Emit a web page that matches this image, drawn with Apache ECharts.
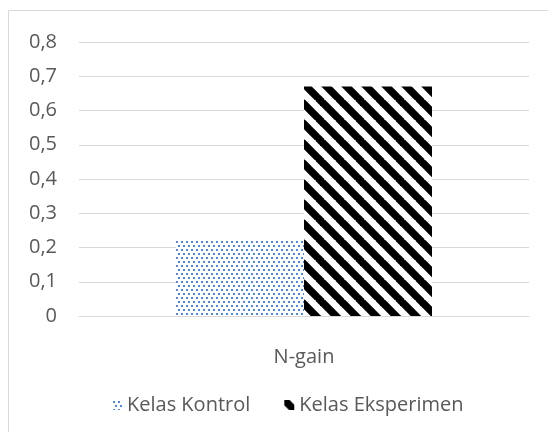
<!DOCTYPE html>
<html>
<head>
<meta charset="utf-8">
<script src="https://cdn.jsdelivr.net/npm/echarts@6/dist/echarts.min.js"></script>
<style>
  html, body { margin: 0; padding: 0; background: #fff; }
  #chart { width: 548px; height: 432px; }
</style>
</head>
<body>
<div id="chart"></div>
<script>
var categories = ['N-gain'];
var seriesNames = ['Kelas Kontrol', 'Kelas Eksperimen'];
var kontrolValues = [0.22];
var eksperimenValues = [0.67];

// titik-titik biru
function dotPattern() {
    var c = document.createElement('canvas');
    c.width = 10; c.height = 8;
    var ctx = c.getContext('2d');
    ctx.fillStyle = '#fff';
    ctx.fillRect(0, 0, 10, 8);
    ctx.fillStyle = '#4a8ae0';
    ctx.fillRect(1, 1, 2, 2);
    ctx.fillRect(6, 1, 2, 2);
    ctx.fillRect(3, 5, 2, 2);
    ctx.fillRect(8, 5, 2, 2);
    return { image: c, repeat: 'repeat' };
}

// garis miring hitam
function stripePattern() {
    var s = 20;
    var c = document.createElement('canvas');
    c.width = s; c.height = s;
    var ctx = c.getContext('2d');
    ctx.fillStyle = '#fff';
    ctx.fillRect(0, 0, s, s);
    ctx.strokeStyle = '#000';
    ctx.lineWidth = 7.5;
    for (var k = -1; k <= 1; k++) {
        ctx.beginPath();
        ctx.moveTo(k * s - 2, -2);
        ctx.lineTo(k * s + s + 2, s + 2);
        ctx.stroke();
    }
    return { image: c, repeat: 'repeat' };
}

var myChart = echarts.init(document.getElementById('chart'));
var txtColor = '#595959';
var font = 'Open Sans';

var option = {
    animation: false,
    graphic: [{
        type: 'rect',
        shape: { x: 8.5, y: 10.5, width: 700, height: 700 },
        style: { fill: 'none', stroke: '#d9d9d9', lineWidth: 1 },
        silent: true
    }],
    legend: {
        data: seriesNames,
        top: 390,
        left: 107,
        icon: 'rect',
        itemWidth: 10,
        itemHeight: 10,
        itemGap: 34,
        textStyle: { color: txtColor, fontSize: 20, fontFamily: font }
    },
    grid: { left: 79, right: 19, top: 42, bottom: 116 },
    xAxis: {
        type: 'category',
        data: categories,
        axisLine: { lineStyle: { color: '#d9d9d9' } },
        axisTick: { show: false },
        axisLabel: { color: txtColor, fontSize: 20, fontFamily: font, margin: 31 }
    },
    yAxis: {
        type: 'value',
        min: 0, max: 0.8, interval: 0.1,
        axisLine: { show: false },
        axisTick: { show: false },
        splitLine: { lineStyle: { color: '#d9d9d9' } },
        axisLabel: {
            color: txtColor, fontSize: 20, fontFamily: font, margin: 22,
            formatter: function (v) { return v === 0 ? '0' : v.toFixed(1).replace('.', ','); }
        }
    },
    series: [{
        name: seriesNames[0],
        type: 'bar',
        data: kontrolValues,
        barWidth: 128,
        barGap: '0%',
        itemStyle: { color: dotPattern() }
    }, {
        name: seriesNames[1],
        type: 'bar',
        data: eksperimenValues,
        barWidth: 128,
        barGap: '0%',
        itemStyle: { color: stripePattern() }
    }]
};
myChart.setOption(option);
window.onresize = myChart.resize;
</script>
</body>
</html>
